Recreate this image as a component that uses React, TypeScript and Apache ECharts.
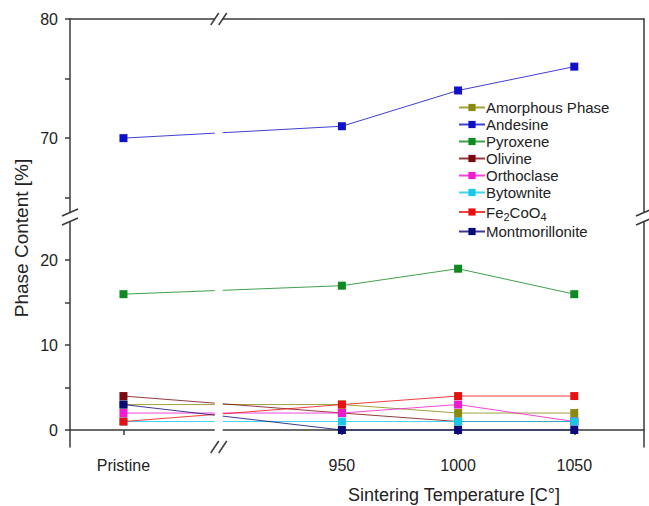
import React, { useEffect, useRef } from "react";
import * as echarts from "echarts";

// x categories and where they sit on the (broken) temperature scale
const temperatureLabels = ["Pristine", "950", "1000", "1050"];
const temperaturePositions = [856, 950, 1000, 1050];

// phase contents [%]
const amorphousPhase = [3, 3, 2, 2];
const andesine = [70, 71, 74, 76];
const pyroxene = [16, 17, 19, 16];
const olivine = [4, 2, 1, 1];
const orthoclase = [2, 2, 3, 1];
const bytownite = [1, 1, 1, 1];
const fe2coo4 = [1, 3, 4, 4];
const montmorillonite = [3, 0, 0, 0];

const seriesNames = [
  "Amorphous Phase",
  "Andesine",
  "Pyroxene",
  "Olivine",
  "Orthoclase",
  "Bytownite",
  "Fe2CoO4",
  "Montmorillonite",
];
const seriesValues = [
  amorphousPhase,
  andesine,
  pyroxene,
  olivine,
  orthoclase,
  bytownite,
  fe2coo4,
  montmorillonite,
];
const seriesColors = [
  "#8a8a10",
  "#1010c8",
  "#108a20",
  "#7a0a10",
  "#f01ad0",
  "#18c8e8",
  "#e81010",
  "#0a0a78",
];
// which y segment (0 = upper 64-80, 1 = lower -2-25)
const seriesSegment = [1, 0, 1, 1, 1, 1, 1, 1];

const upperTicks = [65, 70, 75, 80];
const upperLabels = [70, 80];
const lowerTicks = [0, 5, 10, 15, 20];
const lowerLabels = [0, 10, 20];

const xMin = 833;
const xMax = 1080;
const xBreak = 897;
const upperMin = 63.8;
const upperMax = 80;
const lowerMin = -2;
const lowerMax = 24.5;

const FONT = "Liberation Sans, Arial, Helvetica, sans-serif";
const AXIS_COLOR = "#3a3a3a";

export default function App() {
  const ref = useRef<HTMLDivElement>(null);

  useEffect(() => {
    if (!ref.current) return;
    const chart = echarts.init(ref.current, undefined, { renderer: "svg" });

    const xLabel = (v: number) => {
      const i = temperaturePositions.indexOf(v);
      return i >= 0 ? temperatureLabels[i] : "";
    };

    const baseX = {
      type: "value" as const,
      min: xMin,
      max: xMax,
      splitLine: { show: false },
      axisLine: { show: true, lineStyle: { color: AXIS_COLOR, width: 1.5 } },
    };

    const tickLabel = {
      fontFamily: FONT,
      fontSize: 16,
      color: "#222",
    };

    const option: any = {
      animation: false,
      backgroundColor: "#ffffff",
      grid: [
        { left: 70, right: 5, top: 19, height: 193 },
        { left: 70, right: 5, top: 222, height: 225 },
      ],
      xAxis: [
        {
          ...baseX,
          gridIndex: 0,
          position: "top",
          axisTick: { show: false },
          axisLabel: { show: false },
        },
        {
          ...baseX,
          gridIndex: 1,
          position: "bottom",
          axisTick: {
            show: true,
            length: 5,
            customValues: temperaturePositions,
            lineStyle: { color: AXIS_COLOR, width: 1.5 },
          },
          axisLabel: {
            show: true,
            customValues: temperaturePositions,
            formatter: xLabel,
            ...tickLabel,
            margin: 10,
          },
        },
      ],
      yAxis: [
        {
          type: "value",
          gridIndex: 0,
          min: upperMin,
          max: upperMax,
          splitLine: { show: false },
          axisLine: { show: true, lineStyle: { color: AXIS_COLOR, width: 1.5 } },
          axisTick: {
            show: true,
            length: 5,
            customValues: upperTicks,
            lineStyle: { color: AXIS_COLOR, width: 1.5 },
          },
          axisLabel: { customValues: upperLabels, ...tickLabel, margin: 12 },
        },
        {
          type: "value",
          gridIndex: 1,
          min: lowerMin,
          max: lowerMax,
          splitLine: { show: false },
          axisLine: { show: true, lineStyle: { color: AXIS_COLOR, width: 1.5 } },
          axisTick: {
            show: true,
            length: 5,
            customValues: lowerTicks,
            lineStyle: { color: AXIS_COLOR, width: 1.5 },
          },
          axisLabel: { customValues: lowerLabels, ...tickLabel, margin: 12 },
        },
        {
          type: "value",
          gridIndex: 0,
          position: "right",
          min: upperMin,
          max: upperMax,
          splitLine: { show: false },
          axisLine: { show: true, lineStyle: { color: AXIS_COLOR, width: 1.5 } },
          axisTick: { show: false },
          axisLabel: { show: false },
        },
        {
          type: "value",
          gridIndex: 1,
          position: "right",
          min: lowerMin,
          max: lowerMax,
          splitLine: { show: false },
          axisLine: { show: true, lineStyle: { color: AXIS_COLOR, width: 1.5 } },
          axisTick: { show: false },
          axisLabel: { show: false },
        },
      ],
      legend: {
        orient: "vertical",
        left: 458,
        top: 100,
        padding: 0,
        itemWidth: 26,
        itemHeight: 9,
        itemGap: 2,
        data: seriesNames,
        formatter: (name: string) =>
          name === "Fe2CoO4" ? "Fe{sub|2}CoO{sub|4}" : name,
        textStyle: {
          fontFamily: FONT,
          fontSize: 15,
          lineHeight: 15,
          color: "#222",
          padding: [0, 0, 0, -4],
          rich: {
            sub: { fontFamily: FONT, fontSize: 11, lineHeight: 15, padding: [9, 0, 0, 0] },
          },
        },
      },
      series: seriesNames.map((name, i) => ({
        name,
        type: "line",
        xAxisIndex: seriesSegment[i],
        yAxisIndex: seriesSegment[i],
        data: temperaturePositions.map((x, j) => [x, seriesValues[i][j]]),
        symbol: "rect",
        symbolSize: 8,
        color: seriesColors[i],
        lineStyle: { width: 1, color: seriesColors[i], opacity: 0.8 },
        itemStyle: { color: seriesColors[i] },
        z: 2 + i,
      })),
    };

    chart.setOption(option);

    const px = (axis: any, v: number) => chart.convertToPixel(axis, v) as number;
    const xb = px({ xAxisIndex: 1 }, xBreak);
    const left = px({ xAxisIndex: 1 }, xMin);
    const right = px({ xAxisIndex: 1 }, xMax);
    const top = px({ yAxisIndex: 0 }, upperMax);
    const upperBottom = px({ yAxisIndex: 0 }, upperMin);
    const lowerTop = px({ yAxisIndex: 1 }, lowerMax);
    const bottom = px({ yAxisIndex: 1 }, lowerMin);
    const yc = (upperBottom + lowerTop) / 2;

    const stroke = { stroke: AXIS_COLOR, lineWidth: 1.5 };
    const hSlashes = (y0: number) => [
      { type: "rect", shape: { x: xb - 4, y: y0 - 2, width: 8, height: 4 }, style: { fill: "#fff" }, z: 100 },
      { type: "line", shape: { x1: xb - 8, y1: y0 + 6, x2: xb, y2: y0 - 6 }, style: stroke, z: 101 },
      { type: "line", shape: { x1: xb, y1: y0 + 6, x2: xb + 8, y2: y0 - 6 }, style: stroke, z: 101 },
    ];
    const vSlashes = (x0: number) => [
      { type: "line", shape: { x1: x0 - 8, y1: yc - 1, x2: x0 + 8, y2: yc - 8 }, style: stroke, z: 101 },
      { type: "line", shape: { x1: x0 - 8, y1: yc + 8, x2: x0 + 8, y2: yc + 1 }, style: stroke, z: 101 },
    ];

    chart.setOption({
      graphic: [
        {
          type: "rect",
          shape: { x: xb - 4, y: top + 2, width: 8, height: bottom - top - 4 },
          style: { fill: "#fff" },
          z: 99,
        },
        ...hSlashes(top),
        ...hSlashes(bottom),
        ...vSlashes(left),
        ...vSlashes(right),
        {
          type: "text",
          x: 21,
          y: 238,
          rotation: Math.PI / 2,
          style: {
            text: "Phase Content [%]",
            fontFamily: FONT,
            fontSize: 19,
            fill: "#222",
            align: "center",
            verticalAlign: "middle",
          },
        },
        {
          type: "text",
          x: 454,
          y: 495,
          style: {
            text: "Sintering Temperature [C°]",
            fontFamily: FONT,
            fontSize: 18,
            fill: "#222",
            align: "center",
            verticalAlign: "middle",
          },
        },
      ],
    });

    return () => chart.dispose();
  }, []);

  return (
    <div
      ref={ref}
      style={{ position: "absolute", left: 0, top: 0, width: 649, height: 506 }}
    />
  );
}
